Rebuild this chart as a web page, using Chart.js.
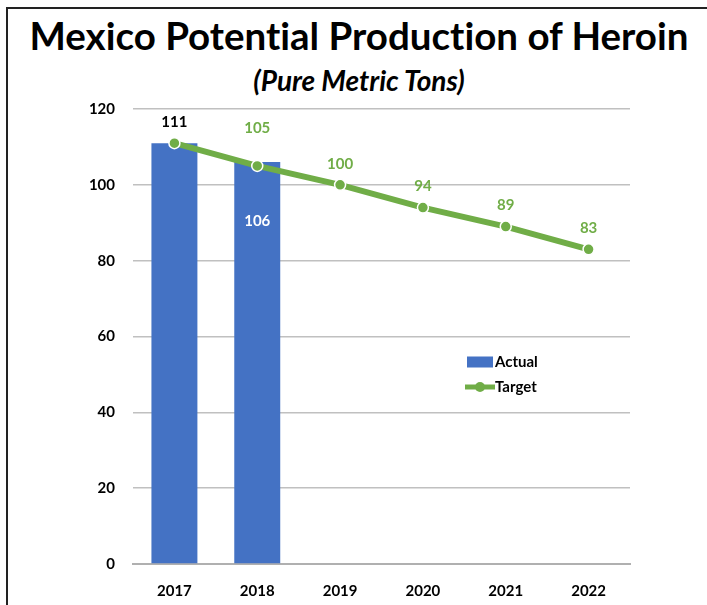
<!DOCTYPE html>
<html>
<head>
<meta charset="utf-8">
<script src="https://cdn.jsdelivr.net/npm/chart.js@4/dist/chart.umd.min.js"></script>
<style>
    html, body { margin: 0; padding: 0; background: #fff; }
    #wrap { position: relative; width: 707px; height: 605px; overflow: hidden; }
    #frame { position: absolute; left: 6px; top: 7px; width: 720px; height: 620px; border: 2px solid #222; box-sizing: border-box; }
    #title, #subtitle { position: absolute; left: 0; width: 718px; text-align: center; color: #000; font-family: Lato, "Noto Sans", sans-serif; font-weight: bold; margin: 0; font-variant-ligatures: none; }
    #title { top: 12px; font-size: 38.5px; }
    #subtitle { top: 63px; font-size: 28px; font-style: italic; }
    canvas { position: absolute; left: 0; top: 0; }
</style>
</head>
<body>
<div id="wrap">
    <div id="frame"></div>
    <h1 id="title">Mexico Potential Production of Heroin</h1>
    <h2 id="subtitle">(Pure Metric Tons)</h2>
    <canvas id="chart" width="707" height="605"></canvas>
</div>
<script>
// Data
const years = ['2017', '2018', '2019', '2020', '2021', '2022'];
const actual = [111, 106, null, null, null, null];
const target = [111, 105, 100, 94, 89, 83];
const yTicks = [0, 20, 40, 60, 80, 100, 120];

const BLUE = '#4472C4';
const GREEN = '#70AD47';
const FONT = 'Lato, "Noto Sans", sans-serif';

// value labels drawn from the elements' own positions
const valueLabels = {
    id: 'valueLabels',
    afterDatasetsDraw(chart) {
        const ctx = chart.ctx;
        ctx.save();
        ctx.font = 'bold 15px ' + FONT;
        ctx.textAlign = 'center';
        ctx.textBaseline = 'middle';

        const bars = chart.getDatasetMeta(0).data;
        bars.forEach((bar, i) => {
            if (actual[i] == null) return;
            if (i === 0) {
                ctx.fillStyle = '#000';
                ctx.fillText(actual[i], bar.x, bar.y - 21);
            } else {
                ctx.fillStyle = '#fff';
                ctx.fillText(actual[i], bar.x, bar.y + 59);
            }
        });

        const pts = chart.getDatasetMeta(1).data;
        pts.forEach((pt, i) => {
            if (i === 0) return; // covered by the actual label
            ctx.fillStyle = GREEN;
            const off = i === 1 ? 38 : 21;
            ctx.fillText(target[i], pt.x, pt.y - off);
        });
        ctx.restore();
    }
};

// legend sitting inside the plot area
const innerLegend = {
    id: 'innerLegend',
    afterDraw(chart) {
        const ctx = chart.ctx;
        const ds = chart.data.datasets;
        const x = 467, y1 = 362, y2 = 387;
        ctx.save();
        ctx.fillStyle = ds[0].backgroundColor;
        ctx.fillRect(x, y1 - 5.5, 26, 11);

        ctx.strokeStyle = ds[1].borderColor;
        ctx.lineWidth = 5;
        ctx.beginPath();
        ctx.moveTo(x - 2, y2);
        ctx.lineTo(x + 28, y2);
        ctx.stroke();
        ctx.fillStyle = ds[1].pointBackgroundColor;
        ctx.beginPath();
        ctx.arc(x + 13, y2, 5, 0, Math.PI * 2);
        ctx.fill();

        ctx.fillStyle = '#000';
        ctx.font = 'bold 15px ' + FONT;
        ctx.textAlign = 'left';
        ctx.textBaseline = 'middle';
        ctx.fillText(ds[0].label, x + 28, y1);
        ctx.fillText(ds[1].label, x + 28, y2);
        ctx.restore();
    }
};

new Chart(document.getElementById('chart'), {
    data: {
        labels: years,
        datasets: [
            {
                type: 'bar',
                label: 'Actual',
                data: actual,
                backgroundColor: BLUE,
                categoryPercentage: 1,
                barPercentage: 0.555,
                order: 2
            },
            {
                type: 'line',
                label: 'Target',
                data: target,
                borderColor: GREEN,
                borderWidth: 6,
                pointRadius: 5.5,
                pointBackgroundColor: GREEN,
                pointBorderColor: '#fff',
                pointBorderWidth: 1.5,
                tension: 0,
                order: 1
            }
        ]
    },
    options: {
        responsive: false,
        animation: false,
        layout: { padding: { top: 109, right: 77, bottom: 0, left: 0 } },
        plugins: {
            legend: { display: false },
            tooltip: { enabled: false }
        },
        scales: {
            x: {
                grid: { display: false },
                border: { color: '#b0b0b0', width: 2 },
                ticks: { color: '#000', font: { family: FONT, weight: 'bold', size: 15 }, padding: 10 },
                afterFit(scale) { scale.height = 41; }
            },
            y: {
                min: 0,
                max: 120,
                afterBuildTicks(scale) { scale.ticks = yTicks.map(v => ({ value: v })); },
                grid: { color: '#c0c0c0', lineWidth: 1.5, drawTicks: false },
                border: { display: false },
                ticks: { color: '#000', font: { family: FONT, weight: 'bold', size: 15 }, padding: 18 },
                afterFit(scale) { scale.width = 133; }
            }
        }
    },
    plugins: [valueLabels, innerLegend]
});
</script>
</body>
</html>
